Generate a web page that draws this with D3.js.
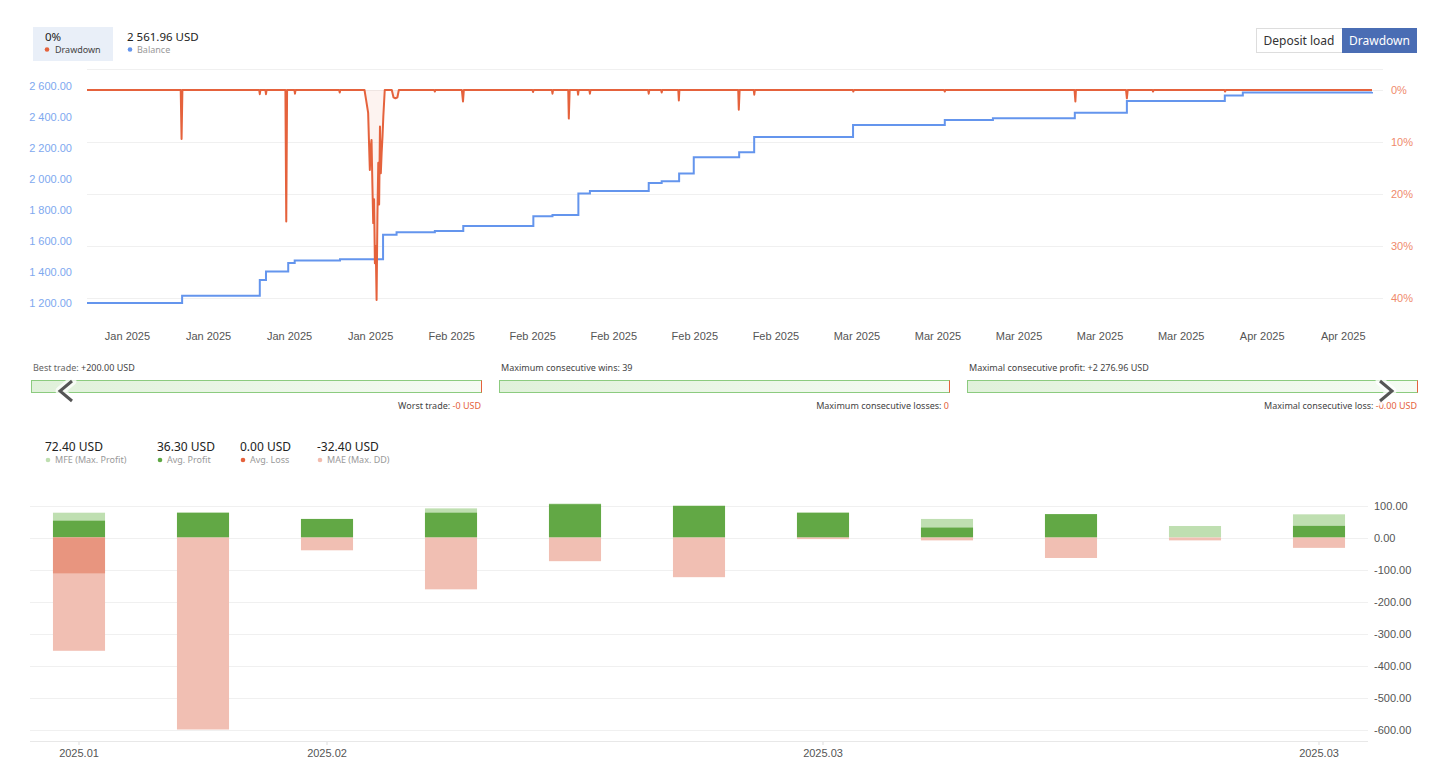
<!DOCTYPE html>
<html>
<head>
<meta charset="utf-8">
<script src="https://cdn.jsdelivr.net/npm/d3@7"></script>
<style>
  body { margin: 0; background: #fff; }
  svg { display: block; font-family: "Noto Sans", sans-serif; }
</style>
</head>
<body>
<svg id="chart" width="1445" height="776"></svg>
<script>
// ---- data ----
var balanceSteps = [
  ["2025-01-05T01:00", 1200], ["2025-01-12T02:00", 1247], ["2025-01-17T20:00", 1349],
  ["2025-01-18T07:00", 1403], ["2025-01-19T22:30", 1458], ["2025-01-20T10:00", 1474],
  ["2025-01-23T18:30", 1482], ["2025-01-26T23:00", 1641], ["2025-01-27T23:00", 1656],
  ["2025-01-30T19:00", 1665], ["2025-02-01T21:30", 1697], ["2025-02-07T02:00", 1760],
  ["2025-02-08T12:00", 1768], ["2025-02-10T10:00", 1906], ["2025-02-11T06:30", 1923],
  ["2025-02-15T15:00", 1975], ["2025-02-16T14:00", 1986], ["2025-02-17T21:00", 2036],
  ["2025-02-18T23:00", 2141], ["2025-02-22T07:40", 2172], ["2025-02-23T10:20", 2271],
  ["2025-03-02T18:00", 2349], ["2025-03-09T13:00", 2381], ["2025-03-13T02:30", 2392],
  ["2025-03-19T04:00", 2428], ["2025-03-23T00:30", 2504], ["2025-03-30T06:30", 2538],
  ["2025-03-31T14:30", 2558], ["2025-04-10T04:00", 2561.96]
];

var drawdownPoints = [
  ["2025-01-05T01:00", 0],
  ["2025-01-11T23:30", 0], ["2025-01-12T01:00", 9.4], ["2025-01-12T02:30", 0],
  ["2025-01-17T19:00", 0], ["2025-01-17T20:00", 0.8], ["2025-01-17T21:00", 0],
  ["2025-01-18T06:00", 0], ["2025-01-18T07:00", 0.8], ["2025-01-18T08:00", 0],
  ["2025-01-19T17:30", 0], ["2025-01-19T19:00", 25.3], ["2025-01-19T20:30", 0],
  ["2025-01-20T09:30", 0], ["2025-01-20T10:30", 0.7], ["2025-01-20T11:30", 0],
  ["2025-01-23T17:00", 0], ["2025-01-23T18:00", 0.5], ["2025-01-23T19:00", 0],
  ["2025-01-25T14:00", 0], ["2025-01-25T17:00", 2.0], ["2025-01-25T20:30", 4.4],
  ["2025-01-25T22:00", 10], ["2025-01-25T23:30", 15.4], ["2025-01-26T01:00", 11],
  ["2025-01-26T02:30", 9.6], ["2025-01-26T04:00", 18], ["2025-01-26T05:30", 25.6],
  ["2025-01-26T07:00", 21], ["2025-01-26T08:30", 33.3], ["2025-01-26T10:00", 30],
  ["2025-01-26T11:30", 40.4], ["2025-01-26T13:00", 24], ["2025-01-26T14:30", 14],
  ["2025-01-26T16:00", 22], ["2025-01-26T17:30", 7], ["2025-01-26T19:00", 16],
  ["2025-01-26T20:30", 12], ["2025-01-26T22:00", 9], ["2025-01-26T23:30", 5],
  ["2025-01-27T02:00", 0],
  ["2025-01-27T14:30", 0], ["2025-01-27T17:30", 1.4], ["2025-01-27T21:00", 1.6],
  ["2025-01-28T00:30", 1.4], ["2025-01-28T03:00", 0],
  ["2025-01-30T18:00", 0], ["2025-01-30T19:00", 0.3], ["2025-01-30T20:00", 0],
  ["2025-02-01T19:00", 0], ["2025-02-01T21:00", 2.2], ["2025-02-01T22:30", 0],
  ["2025-02-07T00:30", 0], ["2025-02-07T01:30", 0.4], ["2025-02-07T02:30", 0],
  ["2025-02-08T11:00", 0], ["2025-02-08T12:00", 0.7], ["2025-02-08T13:00", 0],
  ["2025-02-09T16:00", 0], ["2025-02-09T17:00", 5.5], ["2025-02-09T18:30", 0],
  ["2025-02-10T08:30", 0], ["2025-02-10T09:30", 0.9], ["2025-02-10T10:30", 0],
  ["2025-02-11T05:30", 0], ["2025-02-11T06:30", 0.7], ["2025-02-11T07:30", 0],
  ["2025-02-15T14:00", 0], ["2025-02-15T15:00", 0.7], ["2025-02-15T16:00", 0],
  ["2025-02-16T13:00", 0], ["2025-02-16T14:00", 0.5], ["2025-02-16T15:00", 0],
  ["2025-02-17T19:30", 0], ["2025-02-17T20:30", 2.0], ["2025-02-17T21:30", 0],
  ["2025-02-22T06:00", 0], ["2025-02-22T07:00", 3.8], ["2025-02-22T08:30", 0],
  ["2025-02-23T09:30", 0], ["2025-02-23T10:30", 0.9], ["2025-02-23T11:30", 0],
  ["2025-03-02T17:30", 0], ["2025-03-02T18:30", 0.3], ["2025-03-02T19:30", 0],
  ["2025-03-09T12:00", 0], ["2025-03-09T13:00", 0.3], ["2025-03-09T14:00", 0],
  ["2025-03-19T03:30", 0], ["2025-03-19T05:00", 2.2], ["2025-03-19T06:00", 0],
  ["2025-03-22T23:00", 0], ["2025-03-23T00:30", 1.6], ["2025-03-23T02:00", 0],
  ["2025-03-24T22:00", 0], ["2025-03-24T23:00", 0.3], ["2025-03-25T00:00", 0],
  ["2025-03-30T06:00", 0], ["2025-03-30T07:00", 0.3], ["2025-03-30T08:00", 0],
  ["2025-04-10T04:00", 0]
];

var balanceTicks = [1200, 1400, 1600, 1800, 2000, 2200, 2400, 2600];
var drawdownTicks = [0, 10, 20, 30, 40];
var dateTicks = ["2025-01-08", "2025-01-14", "2025-01-20", "2025-01-26", "2025-02-01",
  "2025-02-07", "2025-02-13", "2025-02-19", "2025-02-25", "2025-03-03", "2025-03-09",
  "2025-03-15", "2025-03-21", "2025-03-27", "2025-04-02", "2025-04-08"];

var periods = ["2025.01", "2025.01", "2025.02", "2025.02", "2025.02", "2025.02",
  "2025.03", "2025.03", "2025.03", "2025.03", "2025.03"];
var periodTicks = [0, 2, 6, 10];
var mfe       = [77.5, 77.5, 58, 91, 106, 99, 77.5, 58, 73, 36, 72.40];
var avgProfit = [52.5, 77.5, 58, 77.5, 104, 99, 77.5, 31, 73, 0, 36.30];
var avgLoss   = [-112, 0, 0, 0, 0, 0, 0, 0, 0, 0, 0];
var mae       = [-354, -600, -40, -162, -74, -124, -5, -9, -64, -9, -32.40];
var profitTicks = [100, 0, -100, -200, -300, -400, -500, -600];

// ---- setup ----
var svg = d3.select("#chart");
var parse = d3.timeParse("%Y-%m-%dT%H:%M");
var parseDay = d3.timeParse("%Y-%m-%d");
var axisFont = "'Liberation Sans', Arial, sans-serif";

var balance = balanceSteps.map(d => ({ t: parse(d[0]), v: d[1] }));
var drawdown = drawdownPoints.map(d => ({ t: parse(d[0]), v: d[1] }));

// ---- header ----
svg.append("rect").attr("x", 33).attr("y", 27).attr("width", 80).attr("height", 34).attr("fill", "#e9eff8");
svg.append("text").attr("x", 45).attr("y", 41).attr("font-size", 11.5).attr("fill", "#222").text("0%");
svg.append("circle").attr("cx", 47).attr("cy", 49.5).attr("r", 2.3).attr("fill", "#e5623c");
svg.append("text").attr("x", 55).attr("y", 52.5).attr("font-size", 9).attr("fill", "#444").text("Drawdown");
svg.append("text").attr("x", 127).attr("y", 41).attr("font-size", 11.5).attr("fill", "#222").text("2 561.96 USD");
svg.append("circle").attr("cx", 130).attr("cy", 49.5).attr("r", 2.3).attr("fill", "#6495ed");
svg.append("text").attr("x", 137).attr("y", 52.5).attr("font-size", 9).attr("fill", "#999").text("Balance");

svg.append("rect").attr("x", 1256.5).attr("y", 28.5).attr("width", 86).attr("height", 24)
  .attr("fill", "#fff").attr("stroke", "#ddd");
svg.append("text").attr("x", 1299).attr("y", 45).attr("text-anchor", "middle").attr("font-size", 12)
  .attr("fill", "#333").text("Deposit load");
svg.append("rect").attr("x", 1342).attr("y", 28).attr("width", 75).attr("height", 25).attr("fill", "#4a6db4");
svg.append("text").attr("x", 1379.5).attr("y", 45).attr("text-anchor", "middle").attr("font-size", 12)
  .attr("fill", "#fff").text("Drawdown");

// ---- top chart ----
var x = d3.scaleTime()
  .domain([parse("2025-01-05T01:00"), parse("2025-04-10T04:00")])
  .range([87, 1372]);
var yBal = d3.scaleLinear().domain([1200, 2600]).range([303, 86]);
var yDd = d3.scaleLinear().domain([0, 40]).range([90, 298]);

svg.append("line").attr("x1", 87).attr("x2", 1383).attr("y1", 69.5).attr("y2", 69.5).attr("stroke", "#f0f0f0");
svg.append("g").selectAll("line").data(drawdownTicks).enter().append("line")
  .attr("x1", 87).attr("x2", 1383)
  .attr("y1", d => Math.round(yDd(d)) + 0.5).attr("y2", d => Math.round(yDd(d)) + 0.5)
  .attr("stroke", "#f0f0f0");

var gl = svg.append("g").attr("transform", "translate(72,0)")
  .call(d3.axisLeft(yBal).tickValues(balanceTicks).tickSize(0).tickPadding(0)
    .tickFormat(d => d3.format(",.2f")(d).replace(/,/g, " ")));
gl.select(".domain").remove();
gl.selectAll("text").attr("fill", "#7ea8ef").attr("font-size", 11).attr("font-family", axisFont);

var gr = svg.append("g").attr("transform", "translate(1391,0)")
  .call(d3.axisRight(yDd).tickValues(drawdownTicks).tickSize(0).tickPadding(0).tickFormat(d => d + "%"));
gr.select(".domain").remove();
gr.selectAll("text").attr("fill", "#ef8a6c").attr("font-size", 11).attr("font-family", axisFont);

var gx = svg.append("g").attr("transform", "translate(0,332)")
  .call(d3.axisBottom(x).tickValues(dateTicks.map(parseDay)).tickSize(0).tickPadding(0)
    .tickFormat(d3.timeFormat("%b %Y")));
gx.select(".domain").remove();
gx.selectAll("text").attr("fill", "#555").attr("font-size", 11).attr("font-family", axisFont);

// drawdown area + line
svg.append("path").datum(drawdown)
  .attr("d", d3.area().x(d => x(d.t)).y0(yDd(0)).y1(d => yDd(d.v)))
  .attr("fill", "rgba(229,98,60,0.08)");

svg.append("path").datum(balance)
  .attr("d", d3.line().x(d => x(d.t)).y(d => yBal(d.v)).curve(d3.curveStepAfter))
  .attr("fill", "none").attr("stroke", "#6495ed").attr("stroke-width", 2);

svg.append("path").datum(drawdown)
  .attr("d", d3.line().x(d => x(d.t)).y(d => yDd(d.v)))
  .attr("fill", "none").attr("stroke", "#e5623c").attr("stroke-width", 2)
  .attr("stroke-linejoin", "round");

// ---- trade stats strip ----
var defs = svg.append("defs");
var grad = defs.append("linearGradient").attr("id", "barGrad");
grad.append("stop").attr("offset", "0%").attr("stop-color", "#e0f1da");
grad.append("stop").attr("offset", "100%").attr("stop-color", "#f5fbf3");

var blocks = [
  { x: 31, top: [["Best trade: ", "#666"], ["+200.00 USD", "#444"]], bottom: [["Worst trade: ", "#444"], ["-0 USD", "#e5623c"]] },
  { x: 499, top: [["Maximum consecutive wins: ", "#444"], ["39", "#444"]], bottom: [["Maximum consecutive losses: ", "#444"], ["0", "#e5623c"]] },
  { x: 967, top: [["Maximal consecutive profit: ", "#444"], ["+2 276.96 USD", "#444"]], bottom: [["Maximal consecutive loss: ", "#444"], ["-0.00 USD", "#e5623c"]] }
];
blocks.forEach(function(b) {
  var t = svg.append("text").attr("x", b.x + 2).attr("y", 371).attr("font-size", 9);
  b.top.forEach(p => t.append("tspan").attr("fill", p[1]).text(p[0]));
  svg.append("rect").attr("x", b.x + 0.5).attr("y", 380.5).attr("width", 450).attr("height", 12)
    .attr("fill", "url(#barGrad)").attr("stroke", "#8ccb7f");
  svg.append("line").attr("x1", b.x + 450.5).attr("x2", b.x + 450.5).attr("y1", 380.5).attr("y2", 392.5)
    .attr("stroke", "#e5623c");
  var bt = svg.append("text").attr("x", b.x + 450).attr("y", 409).attr("font-size", 9).attr("text-anchor", "end");
  b.bottom.forEach(p => bt.append("tspan").attr("fill", p[1]).text(p[0]));
});

// navigation chevrons
[["M72,381 L60,391 L72,401"], ["M1380,381 L1392,391 L1380,401"]].forEach(function(p) {
  svg.append("path").attr("d", p[0]).attr("fill", "none").attr("stroke", "rgba(255,255,255,0.75)")
    .attr("stroke-width", 9).attr("stroke-linejoin", "round").attr("stroke-linecap", "round");
  svg.append("path").attr("d", p[0]).attr("fill", "none").attr("stroke", "#555")
    .attr("stroke-width", 3).attr("stroke-linejoin", "miter");
});

// ---- bottom legend ----
var legend = [
  ["72.40 USD", "MFE (Max. Profit)", "#bfdfb1", 45],
  ["36.30 USD", "Avg. Profit", "#5fa843", 157],
  ["0.00 USD", "Avg. Loss", "#e5623c", 240],
  ["-32.40 USD", "MAE (Max. DD)", "#f2bcae", 317]
];
legend.forEach(function(l) {
  svg.append("text").attr("x", l[3]).attr("y", 451).attr("font-size", 12).attr("fill", "#222").text(l[0]);
  svg.append("circle").attr("cx", l[3] + 3).attr("cy", 460).attr("r", 2.3).attr("fill", l[2]);
  svg.append("text").attr("x", l[3] + 10).attr("y", 463).attr("font-size", 9).attr("fill", "#999").text(l[1]);
});

// ---- bottom bar chart ----
var xb = d3.scaleBand().domain(d3.range(periods.length)).range([17, 1381])
  .paddingInner(0.58).paddingOuter(0.29);
var yb = d3.scaleLinear().domain([-600, 100]).range([729.5, 505.5]);

svg.append("g").selectAll("line").data(profitTicks).enter().append("line")
  .attr("x1", 30).attr("x2", 1368)
  .attr("y1", d => Math.round(yb(d)) + 0.5).attr("y2", d => Math.round(yb(d)) + 0.5)
  .attr("stroke", "#f0f0f0");

var gyb = svg.append("g").attr("transform", "translate(1374,0)")
  .call(d3.axisRight(yb).tickValues(profitTicks).tickSize(0).tickPadding(0).tickFormat(d => d.toFixed(2)));
gyb.select(".domain").remove();
gyb.selectAll("text").attr("fill", "#555").attr("font-size", 11).attr("font-family", axisFont);

var gxb = svg.append("g").attr("transform", "translate(0,741)")
  .call(d3.axisBottom(xb).tickValues(periodTicks).tickSize(4).tickPadding(4).tickFormat(i => periods[i]));
gxb.select(".domain").remove();
gxb.selectAll("line").attr("stroke", "#ddd");
gxb.selectAll("text").attr("fill", "#555").attr("font-size", 11).attr("font-family", axisFont);
svg.append("line").attr("x1", 30).attr("x2", 1368).attr("y1", 741.5).attr("y2", 741.5).attr("stroke", "#e8e8e8");

function bars(values, color) {
  svg.append("g").selectAll("rect").data(values).enter().append("rect")
    .attr("x", (d, i) => xb(i))
    .attr("width", xb.bandwidth())
    .attr("y", d => yb(Math.max(0, d)))
    .attr("height", d => Math.abs(yb(d) - yb(0)))
    .attr("fill", color);
}
bars(mfe, "#bfdfb1");
bars(avgProfit, "#62a845");
bars(mae, "#f1bfb3");
bars(avgLoss, "#e8957f");
</script>
</body>
</html>
